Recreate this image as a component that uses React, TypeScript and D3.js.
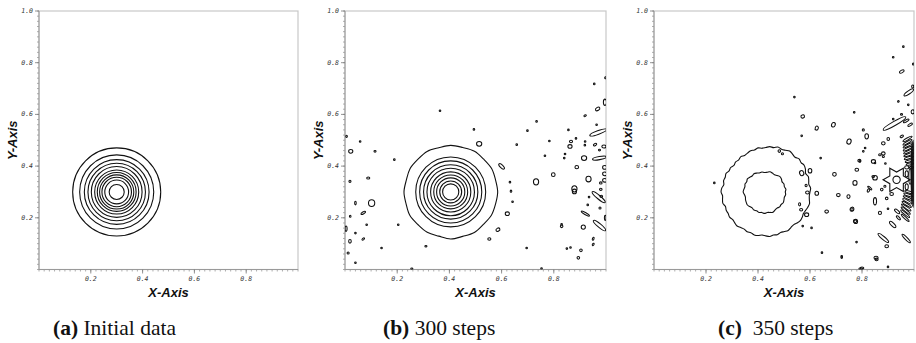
import React from "react";
import * as d3 from "d3";

const W = 916;
const H = 343;

// ---------- data ----------
const yTickValues = [0.2, 0.4, 0.6, 0.8, 1.0];
const xTickValues = [0.2, 0.4, 0.6, 0.8];
const minorStep = 0.02;

const captionsBold = ["(a)", "(b)", "(c)"];
const captionsText = ["Initial data", "300 steps", " 350 steps"];

// panel (a): concentric contour rings around the initial pulse
const centerA = [0.3, 0.3];
const ringsA = [0.17, 0.143, 0.125, 0.111, 0.098, 0.085, 0.075, 0.066, 0.057, 0.046, 0.029];

// panel (b): transported pulse + noise
const centerB = [0.405, 0.3];
const ringsB = [0.134, 0.119, 0.104, 0.091, 0.077, 0.065, 0.054, 0.042, 0.031];
const outerB = [
  0.180, 0.178, 0.181, 0.179, 0.182, 0.178, 0.180, 0.177, 0.181, 0.178, 0.180, 0.176,
  0.179, 0.177, 0.181, 0.178, 0.180, 0.177, 0.182, 0.178, 0.181, 0.177, 0.180, 0.178,
];

// noise blobs: [x, y, rx, ry, angle]
const blobsB: number[][] = [
  [0.006, 0.515, 0.003, 0.004, 0], [0.022, 0.457, 0.008, 0.007, 0], [0.058, 0.495, 0.003, 0.003, 0],
  [0.115, 0.457, 0.004, 0.003, 0], [0.019, 0.341, 0.004, 0.004, 0], [0.089, 0.354, 0.006, 0.004, 0],
  [0.102, 0.257, 0.012, 0.013, 0], [0.040, 0.257, 0.002, 0.007, 0], [0.070, 0.219, 0.010, 0.004, -30],
  [0.020, 0.206, 0.003, 0.004, 0], [0.083, 0.173, 0.003, 0.003, 0], [0.040, 0.141, 0.003, 0.003, 0],
  [0.019, 0.109, 0.005, 0.007, 0], [0.070, 0.118, 0.006, 0.002, -40], [0.004, 0.158, 0.004, 0.010, 0],
  [0.012, 0.064, 0.004, 0.004, 0], [0.040, 0.026, 0.003, 0.003, 0], [0.140, 0.083, 0.002, 0.002, 0],
  [0.204, 0.173, 0.002, 0.002, 0], [0.189, 0.425, 0.002, 0.002, 0], [0.310, 0.090, 0.004, 0.003, 0],
  [0.256, 0.003, 0.004, 0.002, 0], [0.364, 0.614, 0.0015, 0.0015, 0], [0.494, 0.542, 0.003, 0.003, 0],
  [0.514, 0.486, 0.010, 0.009, 0], [0.600, 0.399, 0.014, 0.006, 45], [0.632, 0.338, 0.003, 0.003, 0],
  [0.636, 0.303, 0.003, 0.004, 0], [0.642, 0.262, 0.003, 0.003, 0], [0.622, 0.216, 0.008, 0.007, 0],
  [0.586, 0.154, 0.008, 0.006, -30], [0.553, 0.118, 0.006, 0.005, 0], [0.658, 0.483, 0.003, 0.003, 0],
  [0.699, 0.537, 0.003, 0.003, 0], [0.732, 0.339, 0.010, 0.012, 0], [0.734, 0.573, 0.003, 0.003, 0],
  [0.696, 0.083, 0.003, 0.003, 0], [0.766, 0.440, 0.003, 0.003, 0], [0.783, 0.497, 0.003, 0.003, 0],
  [0.798, 0.367, 0.007, 0.007, 0], [0.753, 0.004, 0.003, 0.002, 0], [0.830, 0.175, 0.003, 0.003, 0],
  [0.850, 0.081, 0.002, 0.002, 0], [0.856, 0.540, 0.003, 0.003, 0], [0.862, 0.476, 0.008, 0.007, 0],
  [0.840, 0.431, 0.003, 0.003, 0], [0.879, 0.312, 0.010, 0.012, 0], [0.916, 0.431, 0.010, 0.009, 0],
  [0.885, 0.507, 0.003, 0.003, 0], [0.919, 0.481, 0.003, 0.003, 0], [0.933, 0.350, 0.010, 0.011, 0],
  [0.913, 0.164, 0.008, 0.008, 0], [0.904, 0.074, 0.005, 0.005, 0], [0.951, 0.119, 0.003, 0.006, 20],
  [0.955, 0.718, 0.003, 0.003, 0], [0.998, 0.742, 0.002, 0.004, 0], [0.968, 0.621, 0.009, 0.006, -30],
  [0.996, 0.647, 0.006, 0.012, 0], [0.920, 0.595, 0.005, 0.002, -30], [0.964, 0.560, 0.003, 0.003, 0],
  [0.970, 0.530, 0.034, 0.007, -20], [0.866, 0.495, 0.006, 0.005, 0], [0.920, 0.495, 0.003, 0.003, 0],
  [0.958, 0.483, 0.007, 0.004, -30], [0.992, 0.476, 0.008, 0.006, 0], [0.975, 0.462, 0.004, 0.003, 0],
  [0.843, 0.447, 0.003, 0.003, 0], [0.975, 0.431, 0.027, 0.006, -10], [0.888, 0.396, 0.007, 0.006, 0],
  [0.995, 0.395, 0.008, 0.007, 0], [0.995, 0.370, 0.008, 0.007, 0], [0.995, 0.345, 0.008, 0.007, 0],
  [0.980, 0.335, 0.005, 0.004, 0], [0.980, 0.310, 0.005, 0.004, 0], [0.982, 0.283, 0.005, 0.004, 0],
  [0.879, 0.302, 0.008, 0.009, 0], [0.935, 0.280, 0.003, 0.003, 0], [0.972, 0.280, 0.032, 0.007, 40],
  [0.977, 0.238, 0.004, 0.004, 0], [0.930, 0.250, 0.003, 0.003, 0], [0.921, 0.216, 0.018, 0.004, 30],
  [0.975, 0.170, 0.030, 0.007, 40], [0.830, 0.167, 0.005, 0.005, 0], [0.951, 0.097, 0.003, 0.005, 30],
  [0.894, 0.045, 0.005, 0.005, 0], [0.864, 0.085, 0.002, 0.002, 0], [0.997, 0.200, 0.003, 0.010, 0],
];

// panel (c): dispersed pulse + strong noise
const centerCOuter = [0.43, 0.3];
const outerC = [
  0.170, 0.173, 0.168, 0.171, 0.174, 0.169, 0.176, 0.180, 0.177, 0.181, 0.175, 0.179,
  0.183, 0.178, 0.176, 0.180, 0.174, 0.176, 0.172, 0.170, 0.173, 0.168, 0.170, 0.166,
  0.163, 0.167, 0.162, 0.164, 0.160, 0.165, 0.163, 0.169, 0.166, 0.168, 0.164, 0.170,
  0.172, 0.167, 0.169, 0.171, 0.165, 0.168, 0.167, 0.170, 0.166, 0.169, 0.172, 0.168,
  0.166, 0.170, 0.168, 0.172, 0.171, 0.167, 0.170, 0.173, 0.169, 0.171, 0.167, 0.169,
  0.172, 0.168, 0.166, 0.170, 0.173, 0.171, 0.167, 0.169, 0.172, 0.174, 0.170, 0.168,
];
const centerCInner = [0.425, 0.3];
const innerC = [
  0.080, 0.083, 0.079, 0.081, 0.078, 0.082, 0.084, 0.080, 0.077, 0.079, 0.081, 0.077,
  0.075, 0.078, 0.076, 0.079, 0.081, 0.078, 0.080, 0.083, 0.079, 0.081, 0.078, 0.080,
  0.082, 0.078, 0.076, 0.079, 0.081, 0.083, 0.080, 0.078, 0.081, 0.079, 0.082, 0.080,
  0.083, 0.080, 0.082, 0.085, 0.081, 0.079, 0.082, 0.080, 0.083, 0.081, 0.079, 0.082,
];
const starCenter = [0.933, 0.347];
const starRadii = [0.052, 0.03, 0.052, 0.03, 0.052, 0.03, 0.052, 0.03, 0.052, 0.03, 0.052, 0.03];
const starCore = 0.014;

const blobsC: number[][] = [
  [0.232, 0.335, 0.003, 0.003, 0], [0.540, 0.667, 0.003, 0.003, 0], [0.572, 0.592, 0.007, 0.006, -20],
  [0.626, 0.547, 0.006, 0.008, 20], [0.690, 0.560, 0.007, 0.009, 20], [0.750, 0.495, 0.008, 0.010, 20],
  [0.770, 0.608, 0.003, 0.003, 0], [0.568, 0.517, 0.003, 0.003, 0], [0.641, 0.431, 0.003, 0.003, 0],
  [0.600, 0.382, 0.007, 0.009, 0], [0.568, 0.373, 0.008, 0.010, -20], [0.590, 0.298, 0.007, 0.006, 0],
  [0.626, 0.295, 0.007, 0.008, 0], [0.566, 0.231, 0.006, 0.005, 0], [0.587, 0.212, 0.008, 0.007, 0],
  [0.606, 0.161, 0.003, 0.003, 0], [0.664, 0.224, 0.007, 0.006, 0], [0.709, 0.288, 0.007, 0.006, 0],
  [0.694, 0.368, 0.007, 0.007, 0], [0.748, 0.282, 0.006, 0.007, 0], [0.763, 0.234, 0.006, 0.008, 0],
  [0.776, 0.186, 0.007, 0.008, 0], [0.780, 0.386, 0.007, 0.006, 0], [0.790, 0.421, 0.006, 0.005, 0],
  [0.805, 0.457, 0.003, 0.003, 0], [0.818, 0.515, 0.007, 0.010, 0], [0.773, 0.335, 0.008, 0.009, 0],
  [0.779, 0.106, 0.003, 0.003, 0], [0.722, 0.046, 0.003, 0.003, 0], [0.646, 0.065, 0.003, 0.003, 0],
  [0.795, 0.003, 0.007, 0.004, 0], [0.854, 0.045, 0.008, 0.006, 0], [0.825, 0.306, 0.004, 0.007, 30],
  [0.850, 0.355, 0.009, 0.009, 0], [0.844, 0.418, 0.008, 0.007, 0], [0.882, 0.449, 0.007, 0.006, 0],
  [0.882, 0.488, 0.007, 0.006, 0], [0.895, 0.275, 0.005, 0.005, 0], [0.914, 0.292, 0.007, 0.006, 0],
  [0.959, 0.862, 0.003, 0.003, 0], [0.920, 0.821, 0.003, 0.003, 0], [0.997, 0.795, 0.003, 0.004, 0],
  [0.953, 0.766, 0.010, 0.005, -30], [0.995, 0.708, 0.004, 0.006, 0], [0.980, 0.685, 0.022, 0.006, -35],
  [0.940, 0.650, 0.003, 0.002, -30], [0.978, 0.637, 0.003, 0.003, 0], [0.920, 0.582, 0.003, 0.003, 0],
  [0.995, 0.610, 0.006, 0.008, 0], [0.925, 0.565, 0.050, 0.008, -30], [0.805, 0.540, 0.004, 0.004, 0],
  [0.901, 0.505, 0.005, 0.006, 0], [0.953, 0.515, 0.007, 0.004, -30], [0.812, 0.470, 0.003, 0.003, 0],
  [0.869, 0.444, 0.005, 0.004, 0], [0.882, 0.437, 0.004, 0.004, 0], [0.792, 0.418, 0.003, 0.003, 0],
  [0.850, 0.412, 0.003, 0.003, 0], [0.890, 0.410, 0.003, 0.003, 0], [0.843, 0.360, 0.005, 0.004, 0],
  [0.876, 0.309, 0.005, 0.005, 0], [0.888, 0.322, 0.004, 0.004, 0], [0.830, 0.315, 0.010, 0.003, 40],
  [0.850, 0.264, 0.006, 0.014, 0], [0.760, 0.232, 0.006, 0.007, 0], [0.773, 0.187, 0.006, 0.006, 0],
  [0.869, 0.219, 0.006, 0.006, 0], [0.900, 0.235, 0.003, 0.003, 0], [0.918, 0.174, 0.016, 0.006, 45],
  [0.882, 0.122, 0.026, 0.006, 40], [0.895, 0.090, 0.007, 0.006, 0], [0.970, 0.120, 0.022, 0.005, 45],
  [0.722, 0.051, 0.003, 0.003, 0], [0.856, 0.039, 0.006, 0.005, 0], [0.800, 0.006, 0.007, 0.004, 0],
  [0.900, 0.010, 0.003, 0.002, 0], [0.940, 0.200, 0.010, 0.004, 45], [0.935, 0.225, 0.012, 0.005, 40],
  [0.952, 0.600, 0.004, 0.003, 0], [0.970, 0.575, 0.012, 0.004, -30], [0.985, 0.560, 0.010, 0.004, -30],
  [0.482, 0.458, 0.005, 0.005, 0], [0.494, 0.448, 0.004, 0.004, 0], [0.560, 0.252, 0.004, 0.006, 0],
  [0.572, 0.168, 0.003, 0.003, 0], [0.585, 0.325, 0.004, 0.005, 0],
];

// dense stripes at the right edge of (c): [x, y, rx, ry, angle]
const stripesC: number[][] = [
  [0.975, 0.505, 0.020, 0.004, -30], [0.975, 0.492, 0.020, 0.004, -30], [0.976, 0.480, 0.020, 0.004, -28],
  [0.977, 0.468, 0.020, 0.004, -25], [0.978, 0.456, 0.019, 0.004, -22], [0.979, 0.444, 0.019, 0.004, -20],
  [0.980, 0.432, 0.018, 0.004, -18], [0.982, 0.420, 0.016, 0.004, -15], [0.984, 0.408, 0.014, 0.004, -10],
  [0.972, 0.395, 0.008, 0.006, 0], [0.990, 0.395, 0.008, 0.004, 0], [0.972, 0.370, 0.006, 0.012, 0],
  [0.985, 0.360, 0.005, 0.030, 0], [0.972, 0.320, 0.006, 0.012, 0], [0.980, 0.300, 0.016, 0.004, 15],
  [0.978, 0.288, 0.018, 0.004, 20], [0.976, 0.276, 0.019, 0.004, 25], [0.974, 0.264, 0.020, 0.004, 30],
  [0.972, 0.252, 0.021, 0.004, 32], [0.970, 0.240, 0.022, 0.004, 35], [0.968, 0.228, 0.022, 0.004, 38],
  [0.966, 0.216, 0.022, 0.004, 40], [0.966, 0.200, 0.020, 0.004, 42],
  [0.995, 0.370, 0.005, 0.125, 0], [0.993, 0.370, 0.004, 0.115, 0], [0.997, 0.370, 0.003, 0.130, 0],
];

// ---------- layout ----------
const panels = [
  { x0: 39, x1: 298, capX: 53 },
  { x0: 345, x1: 606, capX: 383 },
  { x0: 654, x1: 914, capX: 718 },
];
const top = 11;
const bottom = 269.5;

function Ellipses({ list, sx, sy, clip }: any) {
  const kx = sx(1) - sx(0);
  const ky = sy(0) - sy(1);
  return (
    <g clipPath={`url(#${clip})`}>
      {list.map((b: number[], i: number) => (
        <ellipse
          key={i}
          cx={sx(b[0])}
          cy={sy(b[1])}
          rx={Math.max(b[2] * kx, 0.8)}
          ry={Math.max(b[3] * ky, 0.8)}
          transform={`rotate(${b[4]} ${sx(b[0])} ${sy(b[1])})`}
          fill="none"
          stroke="#111"
          strokeWidth={1.05}
        />
      ))}
    </g>
  );
}

function radialPath(center: number[], radii: number[], sx: any, sy: any, curve: any) {
  const n = radii.length;
  const pts: [number, number][] = radii.map((r, i) => {
    const a = (i / n) * Math.PI * 2;
    return [sx(center[0] + r * Math.cos(a)), sy(center[1] + r * Math.sin(a))];
  });
  return d3.line().curve(curve)(pts) as string;
}

function Panel({ idx }: { idx: number }) {
  const p = panels[idx];
  const sx = d3.scaleLinear().domain([0, 1]).range([p.x0, p.x1]);
  const sy = d3.scaleLinear().domain([0, 1]).range([bottom, top]);
  const clip = `clip${idx}`;
  const minors = d3.range(0, 1 + 1e-9, minorStep);
  const k = sx(1) - sx(0);
  const font = "'DejaVu Sans Mono', monospace";

  return (
    <g>
      <defs>
        <clipPath id={clip}>
          <rect x={p.x0} y={top} width={p.x1 - p.x0} height={bottom - top} />
        </clipPath>
      </defs>
      {/* frame */}
      <rect x={p.x0} y={top} width={p.x1 - p.x0} height={bottom - top} fill="#fff" stroke="#c8c8c8" strokeWidth={1.2} />
      <line x1={p.x0} x2={p.x0} y1={top} y2={bottom} stroke="#9a9a9a" strokeWidth={1} />
      <line x1={p.x0} x2={p.x1} y1={bottom} y2={bottom} stroke="#9a9a9a" strokeWidth={1} />
      {/* minor ticks */}
      {minors.map((v, i) => (
        <g key={i}>
          <line x1={p.x0 - 2} x2={p.x0} y1={sy(v)} y2={sy(v)} stroke="#999" strokeWidth={0.8} />
          <line x1={sx(v)} x2={sx(v)} y1={bottom} y2={bottom + 2} stroke="#999" strokeWidth={0.8} />
        </g>
      ))}
      {yTickValues.map((v) => (
        <g key={v}>
          <line x1={p.x0 - 4} x2={p.x0} y1={sy(v)} y2={sy(v)} stroke="#777" strokeWidth={0.8} />
          <text x={p.x0 - 6} y={sy(v) + 2} fontSize={6.5} fontStyle="italic" fill="#333" textAnchor="end" fontFamily={font}>
            {v.toFixed(1)}
          </text>
        </g>
      ))}
      {xTickValues.map((v) => (
        <g key={v}>
          <line x1={sx(v)} x2={sx(v)} y1={bottom} y2={bottom + 4} stroke="#777" strokeWidth={0.8} />
          <text x={sx(v)} y={bottom + 11} fontSize={6.5} fontStyle="italic" fill="#333" textAnchor="middle" fontFamily={font}>
            {v.toFixed(1)}
          </text>
        </g>
      ))}
      {/* axis titles */}
      <text
        x={(p.x0 + p.x1) / 2}
        y={297}
        fontSize={13}
        fontWeight="bold"
        fontStyle="italic"
        textAnchor="middle"
        fontFamily="'Liberation Sans', Arial, sans-serif"
        fill="#111"
      >
        X-Axis
      </text>
      <text
        transform={`translate(${p.x0 - 22},${(top + bottom) / 2}) rotate(-90)`}
        fontSize={13}
        fontWeight="bold"
        fontStyle="italic"
        textAnchor="middle"
        fontFamily="'Liberation Sans', Arial, sans-serif"
        fill="#111"
      >
        Y-Axis
      </text>
      {/* caption */}
      <text x={p.capX} y={335} fontSize={21.5} fontFamily="'Liberation Serif', 'Times New Roman', serif" fill="#111" style={{ whiteSpace: "pre" }}>
        <tspan fontWeight="bold">{captionsBold[idx]}</tspan>
        <tspan>{" " + captionsText[idx]}</tspan>
      </text>

      {/* contours */}
      <g clipPath={`url(#${clip})`} fill="none" stroke="#111" strokeWidth={1.1}>
        {idx === 0 &&
          ringsA.map((r, i) => <circle key={i} cx={sx(centerA[0])} cy={sy(centerA[1])} r={r * k} />)}
        {idx === 1 && (
          <>
            {ringsB.map((r, i) => (
              <circle key={i} cx={sx(centerB[0])} cy={sy(centerB[1])} r={r * k} />
            ))}
            <path d={radialPath(centerB, outerB, sx, sy, d3.curveCardinalClosed)} />
          </>
        )}
        {idx === 2 && (
          <>
            <path d={radialPath(centerCOuter, outerC, sx, sy, d3.curveCatmullRomClosed)} />
            <path d={radialPath(centerCInner, innerC, sx, sy, d3.curveCatmullRomClosed)} />
            <path d={radialPath(starCenter, starRadii, sx, sy, d3.curveLinearClosed)} />
            <circle cx={sx(starCenter[0])} cy={sy(starCenter[1])} r={starCore * k} />
          </>
        )}
      </g>
      {idx === 1 && <Ellipses list={blobsB} sx={sx} sy={sy} clip={clip} />}
      {idx === 2 && <Ellipses list={blobsC} sx={sx} sy={sy} clip={clip} />}
      {idx === 2 && <Ellipses list={stripesC} sx={sx} sy={sy} clip={clip} />}
    </g>
  );
}

export default function App() {
  return (
    <svg width={W} height={H} style={{ position: "absolute", left: 0, top: 0, background: "#fff" }}>
      <rect width={W} height={H} fill="#fff" />
      {[0, 1, 2].map((i) => (
        <Panel key={i} idx={i} />
      ))}
    </svg>
  );
}
